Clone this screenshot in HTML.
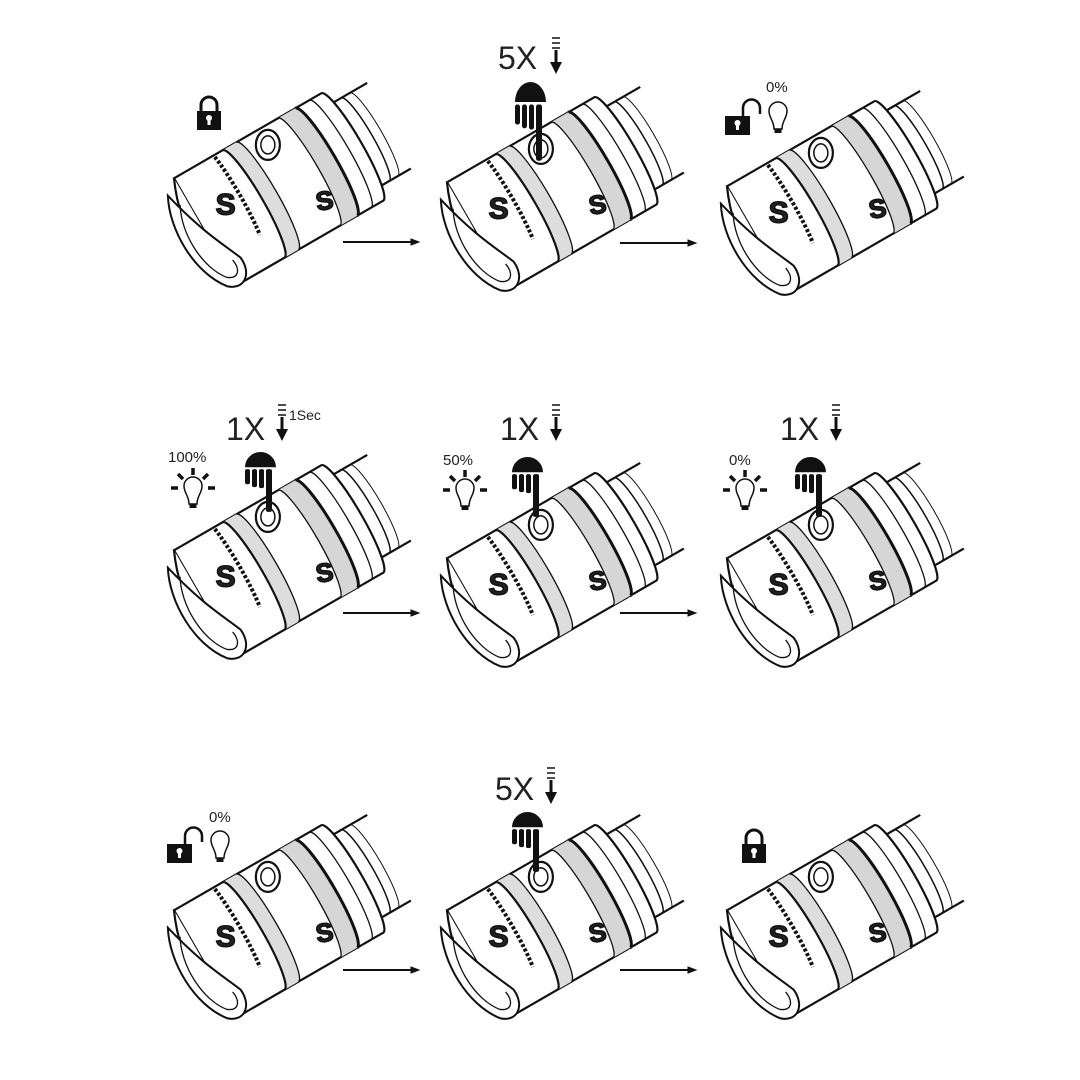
<!DOCTYPE html>
<html><head><meta charset="utf-8"><style>
html,body{margin:0;padding:0;background:#fff}
svg{display:block}
text{font-family:"Liberation Sans",sans-serif;fill:#222}
</style></head><body>
<svg width="1080" height="1080" viewBox="0 0 1080 1080" xmlns="http://www.w3.org/2000/svg">
<defs>
<g id="fl" fill="none" stroke="#111" stroke-width="2.2">
  <!-- tail -->
  <path d="M170,-48 L215,-48 M170,48 L210,48" />
  <path d="M185,-48 A8 48 0 0 1 185,48" stroke-width="1.5"/>
  <path d="M195,-48 A8 48 0 0 1 195,48" stroke-width="1"/>
  <!-- body fill -->
  <path d="M0,-62 L170,-62 A10 62 0 0 1 170,62 L0,62 Z" fill="#fff"/>
  <!-- grey bands -->
  <path d="M56,-62 L72,-62 A10 62 0 0 1 72,62 L56,62 A10 62 0 0 0 56,-62Z" fill="#ddd" stroke="none"/>
  <path d="M120,-62 L140,-62 A10 62 0 0 1 140,62 L120,62 A10 62 0 0 0 120,-62Z" fill="#d6d6d6" stroke="none"/>
  <path d="M56,-62 A10 62 0 0 1 56,62"/>
  <path d="M72,-62 A10 62 0 0 1 72,62" stroke-width="1.3"/>
  <path d="M120,-62 A10 62 0 0 1 120,62" stroke-width="1.3"/>
  <path d="M140,-62 A10 62 0 0 1 140,62" stroke-width="3"/>
  <path d="M156,-62 A10 62 0 0 1 156,62" stroke-width="1.3"/>
  <!-- front lip -->
  <path d="M0,-62 C-10,-40 -18,-10 -14,20 C-10,45 -2,60 0,62" fill="#fff"/>
  <path d="M-14,-50 C-30,-20 -30,30 -8,58 C5,70 20,60 18,40 C10,20 -2,0 -14,-50Z" fill="#fff" stroke-width="2"/>
  <path d="M-8,-36 C-22,-10 -20,30 -4,50 C6,58 12,50 10,38" stroke-width="1.3"/>
  <!-- button -->
  <ellipse cx="98" cy="-44" rx="12" ry="15" fill="#fff" transform="rotate(30 98 -44)"/>
  <ellipse cx="98" cy="-44" rx="7" ry="9" transform="rotate(30 98 -44)" stroke-width="1.5"/>
  <!-- dotted text ring -->
  <path d="M46,-60 A8 60 0 0 1 46,30" stroke-width="4" stroke-dasharray="3 2"/>
  <text x="0" y="0" transform="translate(18,-10) rotate(30)" font-size="30" font-weight="bold" fill="#fff" stroke="#111" stroke-width="1.5">S</text>
  <text x="0" y="0" transform="translate(108,38) rotate(20)" font-size="26" font-weight="bold" fill="#fff" stroke="#111" stroke-width="1.5">S</text>
</g>
<g id="hand" fill="#111">
  <path d="M0,16 A15.5 16 0 0 1 31,16 Z"/>
  <rect x="0" y="18" width="5" height="16" rx="2"/>
  <rect x="7" y="18" width="5" height="19" rx="2"/>
  <rect x="14" y="18" width="5" height="20" rx="2"/>
  <rect x="21" y="18" width="6" height="45" rx="2"/>
</g>
<g id="arr" fill="#111" stroke="#111">
  <line x1="-4" y1="0" x2="4" y2="0" stroke-width="1.5"/>
  <line x1="-4" y1="5" x2="4" y2="5" stroke-width="1.5"/>
  <line x1="-4" y1="10" x2="4" y2="10" stroke-width="1.5"/>
  <line x1="0" y1="12" x2="0" y2="26" stroke-width="3"/>
  <path d="M-6,24 L6,24 L0,36 Z" stroke="none"/>
</g>
<g id="lockc">
  <path d="M4,14 V8 A8 8 0 0 1 20,8 V14" fill="none" stroke="#111" stroke-width="3"/>
  <rect x="0" y="14" width="24" height="19" fill="#111"/>
  <circle cx="12" cy="21" r="3" fill="#fff"/><rect x="10.5" y="21" width="3" height="7" fill="#fff"/>
</g>
<g id="locko">
  <path d="M18,14 V6 A8 8 0 0 1 35,6 V12" fill="none" stroke="#111" stroke-width="2.5"/>
  <rect x="0" y="14" width="25" height="19" fill="#111"/>
  <circle cx="12.5" cy="21" r="3" fill="#fff"/><rect x="11" y="21" width="3" height="7" fill="#fff"/>
</g>
<g id="bulb" fill="none" stroke="#111">
  <path d="M-4,14 C-4,6 -9,3 -9,-4 A9 9 0 0 1 9,-4 C9,3 4,6 4,14 Z" stroke-width="1.5" fill="#fff"/>
  <rect x="-3.5" y="14" width="7" height="4" fill="#111" stroke="none"/>
</g>
<g id="rays" stroke="#111" stroke-width="3.5">
  <line x1="0" y1="-22" x2="0" y2="-15"/>
  <line x1="-15" y1="-16" x2="-10" y2="-11"/>
  <line x1="15" y1="-16" x2="10" y2="-11"/>
  <line x1="-22" y1="-2" x2="-15" y2="-2"/>
  <line x1="22" y1="-2" x2="15" y2="-2"/>
</g>
<g id="harr" stroke="#111">
  <line x1="0" y1="0" x2="70" y2="0" stroke-width="2"/>
  <path d="M68,-3 L76,0 L68,3 Z" fill="#111"/>
</g>
</defs>

<use href="#fl" transform="translate(205,232) rotate(-30)"/>
<use href="#fl" transform="translate(478,236) rotate(-30)"/>
<use href="#fl" transform="translate(758,240) rotate(-30)"/>
<use href="#fl" transform="translate(205,604) rotate(-30)"/>
<use href="#fl" transform="translate(478,612) rotate(-30)"/>
<use href="#fl" transform="translate(758,612) rotate(-30)"/>
<use href="#fl" transform="translate(205,964) rotate(-30)"/>
<use href="#fl" transform="translate(478,964) rotate(-30)"/>
<use href="#fl" transform="translate(758,964) rotate(-30)"/>

<use href="#harr" transform="translate(343,242)"/>
<use href="#harr" transform="translate(620,243)"/>
<use href="#harr" transform="translate(343,613)"/>
<use href="#harr" transform="translate(620,613)"/>
<use href="#harr" transform="translate(343,970)"/>
<use href="#harr" transform="translate(620,970)"/>

<use href="#lockc" transform="translate(197,97)"/>
<text x="498" y="69" font-size="32">5X</text>
<use href="#arr" transform="translate(556,38)"/>
<use href="#hand" transform="translate(515,82) scale(1,1.25)"/>
<text x="766" y="92" font-size="15">0%</text>
<use href="#locko" transform="translate(725,102)"/>
<use href="#bulb" transform="translate(778,115)"/>

<text x="226" y="440" font-size="32">1X</text>
<use href="#arr" transform="translate(282,405)"/>
<text x="289" y="420" font-size="14">1Sec</text>
<use href="#hand" transform="translate(245,452) scale(1,0.95)"/>
<text x="168" y="462" font-size="15">100%</text>
<use href="#rays" transform="translate(193,490)"/>
<use href="#bulb" transform="translate(193,490)"/>

<text x="500" y="440" font-size="32">1X</text>
<use href="#arr" transform="translate(556,405)"/>
<use href="#hand" transform="translate(512,457) scale(1,0.95)"/>
<text x="443" y="465" font-size="15">50%</text>
<use href="#rays" transform="translate(465,492)"/>
<use href="#bulb" transform="translate(465,492)"/>

<text x="780" y="440" font-size="32">1X</text>
<use href="#arr" transform="translate(836,405)"/>
<use href="#hand" transform="translate(795,457) scale(1,0.95)"/>
<text x="729" y="465" font-size="15">0%</text>
<use href="#rays" transform="translate(745,492)"/>
<use href="#bulb" transform="translate(745,492)"/>

<text x="209" y="822" font-size="15">0%</text>
<use href="#locko" transform="translate(167,830)"/>
<use href="#bulb" transform="translate(220,844)"/>
<text x="495" y="800" font-size="32">5X</text>
<use href="#arr" transform="translate(551,768)"/>
<use href="#hand" transform="translate(512,812) scale(1,0.95)"/>
<use href="#lockc" transform="translate(742,830)"/>
</svg>
</body></html>
